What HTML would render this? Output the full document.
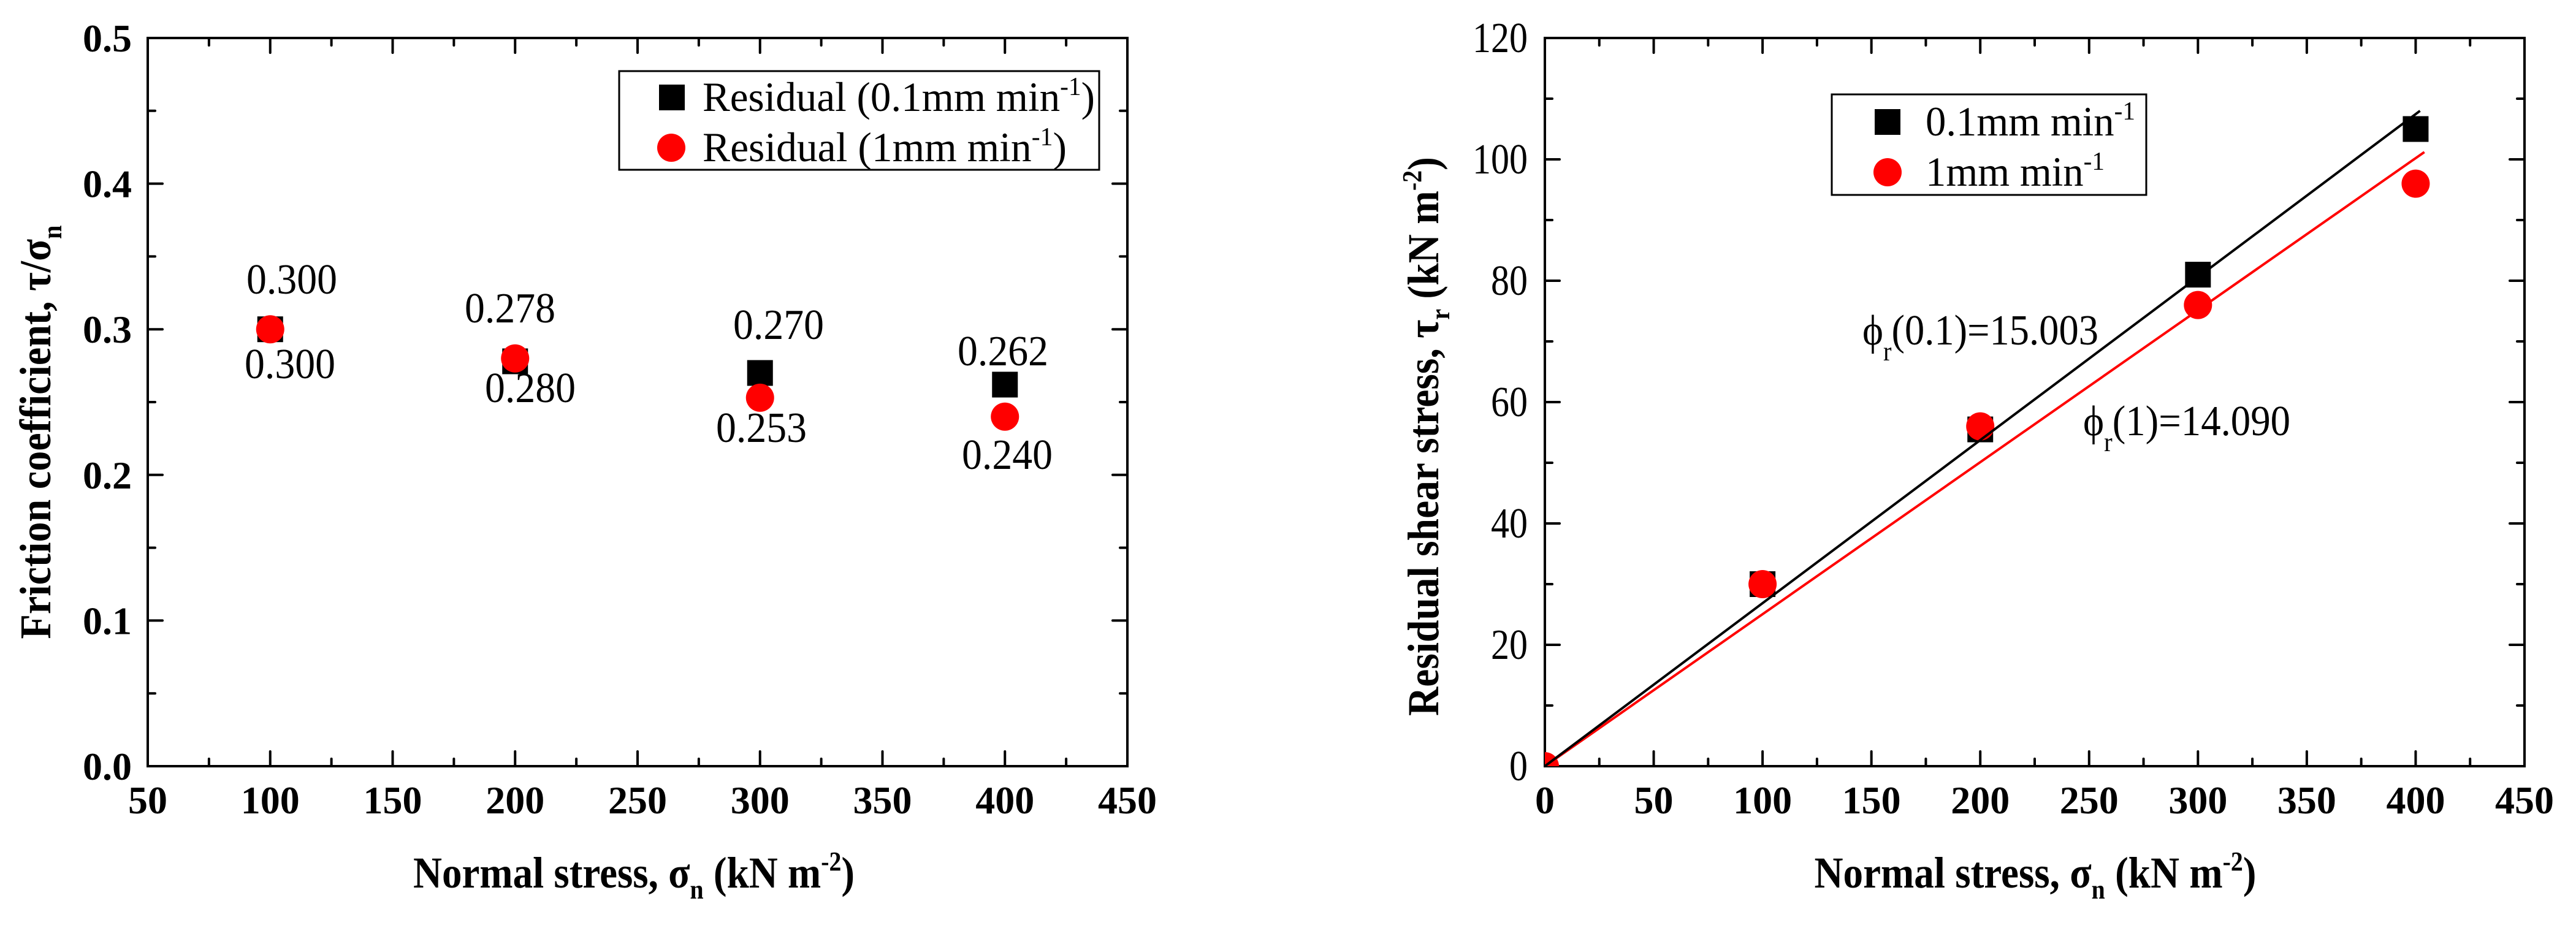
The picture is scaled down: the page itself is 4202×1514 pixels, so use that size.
<!DOCTYPE html>
<html><head><meta charset="utf-8"><style>
html,body{margin:0;padding:0;background:#fff;}
svg{display:block;font-family:"Liberation Serif",serif;}
</style></head><body>
<svg id="fig" width="4202" height="1514" viewBox="0 0 4202 1514" xmlns="http://www.w3.org/2000/svg">
<defs>
<clipPath id="clipR"><rect x="2520" y="62" width="1598" height="1188"/></clipPath>
</defs>
<g id="left"></g>
<g id="right"></g>
</svg>
<script>
// ---- Left chart data ----
const leftXCats = [100, 200, 300, 400];
const leftSlow = [0.300, 0.278, 0.270, 0.262];
const leftFast = [0.300, 0.280, 0.253, 0.240];
const leftSlowLabels = ["0.300", "0.278", "0.270", "0.262"];
const leftFastLabels = ["0.300", "0.280", "0.253", "0.240"];
const leftXTicks = [50, 100, 150, 200, 250, 300, 350, 400, 450];
const leftYTicks = [0.0, 0.1, 0.2, 0.3, 0.4, 0.5];
const leftYTickLabels = ["0.0", "0.1", "0.2", "0.3", "0.4", "0.5"];
// ---- Right chart data ----
const rightXCats = [0, 100, 200, 300, 400];
const rightSlow = [0, 30, 55.5, 81, 105];
const rightFast = [0, 30, 56, 76, 96];
const rightXTicks = [0, 50, 100, 150, 200, 250, 300, 350, 400, 450];
const rightYTicks = [0, 20, 40, 60, 80, 100, 120];
const fitSlowEnd = [402, 108];
const fitFastEnd = [404, 101.2];

const NS = "http://www.w3.org/2000/svg";
function mk(parent, tag, attrs, text) {
  const e = document.createElementNS(NS, tag);
  for (const k in attrs) e.setAttribute(k, attrs[k]);
  if (text !== undefined) e.textContent = text;
  parent.appendChild(e);
  return e;
}

function frame(g, L, T, R, B, xTicks, xMinorStep, yTicks, yMinorStep, sx, sy, xmin, xmax, ymin, ymax) {
  const box = mk(g, 'rect', {x: L, y: T, width: R - L, height: B - T, fill: 'none', stroke: '#000', 'stroke-width': 4});
  
  
  const ticks = mk(g, 'g', {stroke: '#000', 'stroke-width': 4, 'stroke-linecap': 'round'});
  
  
  for (let v = xmin; v <= xmax + 1e-9; v += xMinorStep) {
    const major = xTicks.some(t => Math.abs(t - v) < 1e-6);
    const len = major ? 24 : 12;
    const x = sx(v);
    mk(ticks, 'line', {x1: x, y1: B, x2: x, y2: B - len});
    mk(ticks, 'line', {x1: x, y1: T, x2: x, y2: T + len});
  }
  for (let v = ymin; v <= ymax + 1e-9; v += yMinorStep) {
    const major = yTicks.some(t => Math.abs(t - v) < 1e-6);
    const len = major ? 24 : 12;
    const y = sy(v);
    mk(ticks, 'line', {x1: L, y1: y, x2: L + len, y2: y});
    mk(ticks, 'line', {x1: R, y1: y, x2: R - len, y2: y});
  }
}

// ---------------- LEFT ----------------
(function(){
  const g = document.getElementById('left');
  const L = 241, R = 1839, T = 62, B = 1250;
  const sx = v => L + (v - 50) / 400 * (R - L);
  const sy = v => B - v / 0.5 * (B - T);
  frame(g, L, T, R, B, leftXTicks, 25, leftYTicks, 0.05, sx, sy, 50, 450, 0, 0.5);
  leftXTicks.forEach(v => {
    const t = mk(g, 'text', {x: sx(v), y: 1327, 'font-size': 64, 'font-weight': 'bold', 'text-anchor': 'middle'}, String(v));
    
    
  });
  leftYTicks.forEach((v, i) => {
    const t = mk(g, 'text', {x: 215, y: sy(v) + 22, 'font-size': 64, 'font-weight': 'bold', 'text-anchor': 'end'}, leftYTickLabels[i]);
    
    
  });
  leftXCats.forEach((c, i) => {
    const s = mk(g, 'rect', {x: sx(c) - 21, y: sy(leftSlow[i]) - 21, width: 42, height: 42, fill: '#000'});
    
    
  });
  leftXCats.forEach((c, i) => {
    const s = mk(g, 'ellipse', {cx: sx(c), cy: sy(leftFast[i]), rx: 23, ry: 23, fill: '#ff0000'});
    
    
  });
  const topPos = [[476,479],[832,526],[1270,553],[1636,596]];
  const botPos = [[473,617],[865,656],[1242,721],[1643,765]];
  leftXCats.forEach((c, i) => {
    const t = mk(g, 'text', {x: topPos[i][0], y: topPos[i][1], 'font-size': 70, 'text-anchor': 'middle', textLength: 148, lengthAdjust: 'spacingAndGlyphs'}, leftSlowLabels[i]);
    
    
    const b = mk(g, 'text', {x: botPos[i][0], y: botPos[i][1], 'font-size': 70, 'text-anchor': 'middle', textLength: 148, lengthAdjust: 'spacingAndGlyphs'}, leftFastLabels[i]);
    
    
  });
  const lg = mk(g, 'g', {});
  
  
  mk(lg, 'rect', {x: 1010, y: 116, width: 783, height: 161, fill: '#fff', stroke: '#000', 'stroke-width': 3});
  mk(lg, 'rect', {x: 1075, y: 138, width: 42, height: 42, fill: '#000'});
  mk(lg, 'ellipse', {cx: 1095, cy: 241, rx: 23, ry: 23, fill: '#ff0000'});
  const l1 = mk(lg, 'text', {x: 1146, y: 181, 'font-size': 68, textLength: 640, lengthAdjust: 'spacingAndGlyphs'});
  l1.innerHTML = 'Residual (0.1mm min<tspan dy="-26" font-size="42">-1</tspan><tspan dy="26">)</tspan>';
  
  
  const l2 = mk(lg, 'text', {x: 1146, y: 263, 'font-size': 68, textLength: 594, lengthAdjust: 'spacingAndGlyphs'});
  l2.innerHTML = 'Residual (1mm min<tspan dy="-26" font-size="42">-1</tspan><tspan dy="26">)</tspan>';
  
  
  const xt = mk(g, 'text', {x: 1034, y: 1448, 'font-size': 72, 'font-weight': 'bold', 'text-anchor': 'middle', textLength: 720, lengthAdjust: 'spacingAndGlyphs'});
  xt.innerHTML = 'Normal stress, σ<tspan dy="18" font-size="44">n</tspan><tspan dy="-18"> (kN m</tspan><tspan dy="-28" font-size="44">-2</tspan><tspan dy="28">)</tspan>';
  
  
  const yt = mk(g, 'text', {x: 0, y: 0, 'font-size': 72, 'font-weight': 'bold', 'text-anchor': 'middle', textLength: 675, lengthAdjust: 'spacingAndGlyphs', transform: 'translate(82,705) rotate(-90)'});
  yt.innerHTML = 'Friction coefficient, τ/σ<tspan dy="18" font-size="44">n</tspan>';
  
  
})();

// ---------------- RIGHT ----------------
(function(){
  const g = document.getElementById('right');
  const L = 2520, R = 4118, T = 62, B = 1250;
  const sx = v => L + v / 450 * (R - L);
  const sy = v => B - v / 120 * (B - T);
  frame(g, L, T, R, B, rightXTicks, 25, rightYTicks, 10, sx, sy, 0, 450, 0, 120);
  rightXTicks.forEach(v => {
    const t = mk(g, 'text', {x: sx(v), y: 1327, 'font-size': 64, 'font-weight': 'bold', 'text-anchor': 'middle'}, String(v));
    
    
  });
  rightYTicks.forEach(v => {
    const s = String(v);
    const t = mk(g, 'text', {x: 2492, y: sy(v) + 23, 'font-size': 70, 'text-anchor': 'end', textLength: s.length * 30, lengthAdjust: 'spacingAndGlyphs'}, s);
    
    
  });
  const pg = mk(g, 'g', {'clip-path': 'url(#clipR)'});
  
  
  rightXCats.forEach((c, i) => {
    if (c === 0) return;
    const s = mk(pg, 'rect', {x: sx(c) - 21, y: sy(rightSlow[i]) - 21, width: 42, height: 42, fill: '#000'});
    
    
  });
  rightXCats.forEach((c, i) => {
    const s = mk(pg, 'ellipse', {cx: sx(c), cy: sy(rightFast[i]), rx: 23, ry: 23, fill: '#ff0000'});
    
    
  });
  const f2 = mk(pg, 'line', {x1: sx(0), y1: sy(0), x2: sx(fitFastEnd[0]), y2: sy(fitFastEnd[1]), stroke: '#ff0000', 'stroke-width': 4});
  
  
  const f1 = mk(pg, 'line', {x1: sx(0), y1: sy(0), x2: sx(fitSlowEnd[0]), y2: sy(fitSlowEnd[1]), stroke: '#000', 'stroke-width': 4});
  
  
  const a1 = mk(g, 'text', {x: 3038, y: 562, 'font-size': 70, textLength: 385, lengthAdjust: 'spacingAndGlyphs'});
  a1.innerHTML = 'ϕ<tspan dy="26" font-size="44">r</tspan><tspan dy="-26">(0.1)=15.003</tspan>';
  
  
  const a2 = mk(g, 'text', {x: 3398, y: 710, 'font-size': 70, textLength: 338, lengthAdjust: 'spacingAndGlyphs'});
  a2.innerHTML = 'ϕ<tspan dy="26" font-size="44">r</tspan><tspan dy="-26">(1)=14.090</tspan>';
  
  
  const lg = mk(g, 'g', {});
  
  
  mk(lg, 'rect', {x: 2988, y: 154, width: 513, height: 164, fill: '#fff', stroke: '#000', 'stroke-width': 3});
  mk(lg, 'rect', {x: 3058, y: 178, width: 42, height: 42, fill: '#000'});
  mk(lg, 'ellipse', {cx: 3079, cy: 281, rx: 23, ry: 23, fill: '#ff0000'});
  const l1 = mk(lg, 'text', {x: 3141, y: 221, 'font-size': 68, textLength: 342, lengthAdjust: 'spacingAndGlyphs'});
  l1.innerHTML = '0.1mm min<tspan dy="-26" font-size="42">-1</tspan>';
  
  
  const l2 = mk(lg, 'text', {x: 3141, y: 303, 'font-size': 68, textLength: 292, lengthAdjust: 'spacingAndGlyphs'});
  l2.innerHTML = '1mm min<tspan dy="-26" font-size="42">-1</tspan>';
  
  
  const xt = mk(g, 'text', {x: 3320, y: 1448, 'font-size': 72, 'font-weight': 'bold', 'text-anchor': 'middle', textLength: 721, lengthAdjust: 'spacingAndGlyphs'});
  xt.innerHTML = 'Normal stress, σ<tspan dy="18" font-size="44">n</tspan><tspan dy="-18"> (kN m</tspan><tspan dy="-28" font-size="44">-2</tspan><tspan dy="28">)</tspan>';
  
  
  const yt = mk(g, 'text', {x: 0, y: 0, 'font-size': 72, 'font-weight': 'bold', 'text-anchor': 'middle', textLength: 912, lengthAdjust: 'spacingAndGlyphs', transform: 'translate(2346,712) rotate(-90)'});
  yt.innerHTML = 'Residual shear stress, τ<tspan dy="18" font-size="44">r</tspan><tspan dy="-18"> (kN m</tspan><tspan dy="-28" font-size="44">-2</tspan><tspan dy="28">)</tspan>';
  
  
})();
</script>
</body></html>
